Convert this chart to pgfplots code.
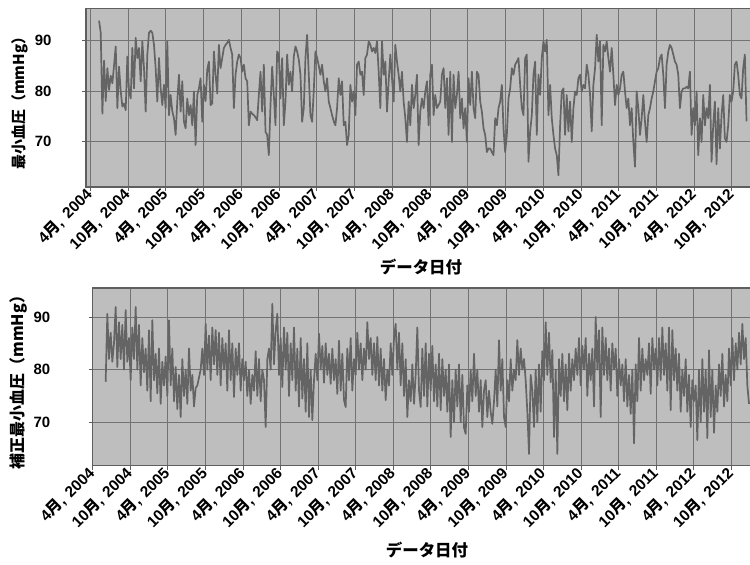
\documentclass[border=0pt]{standalone}
\usepackage{fontspec}
\setmainfont{Liberation Sans}
\newfontfamily\cjk{Noto Sans CJK JP}
\usepackage{pgfplots}
\pgfplotsset{compat=1.18}
\usepackage{pgfplotstable}

\newcommand\M{{\cjk\bfseries 月}}
\newcommand\D[2]{#1\M,\hspace{0.4em}#2}
\definecolor{bg}{RGB}{190,190,190}
\definecolor{gridc}{RGB}{115,115,115}
\definecolor{framec}{RGB}{95,95,95}
\definecolor{linec}{RGB}{100,100,100}

% Top series: 最小血圧, roughly weekly from May 2004 (x = months since Apr 2004)
\pgfplotstableread[row sep=\\]{
y\\
93.9\\ 91.5\\ 75.5\\ 86\\ 78\\ 84.5\\ 80.2\\ 83\\ 81.5\\ 85\\
88.8\\ 76.6\\ 84.8\\ 80\\ 76.9\\ 77.5\\ 76.2\\ 86.8\\ 79.9\\ 78.5\\
88.5\\ 80.5\\ 90.5\\ 86.5\\ 88.5\\ 81.9\\ 89.8\\ 84.5\\ 75.9\\ 87.2\\
91.5\\ 91.9\\ 91.5\\ 89.1\\ 84.5\\ 77.9\\ 86.5\\ 80.5\\ 77.2\\ 81.2\\
76.6\\ 89.8\\ 75.2\\ 79.2\\ 76\\ 74.6\\ 71.3\\ 78\\ 83.2\\ 75.9\\
81.9\\ 73.9\\ 72.6\\ 78.5\\ 75.2\\ 77.2\\ 73.2\\ 79.9\\ 69.3\\ 79.2\\
80.5\\ 82.5\\ 73.9\\ 81.2\\ 78\\ 84.2\\ 85.8\\ 77.2\\ 77.5\\ 87.8\\
83.2\\ 79.5\\ 89.1\\ 84.5\\ 86.5\\ 88.5\\ 89.1\\ 89.5\\ 90.1\\ 88.5\\
87.2\\ 76.6\\ 83.2\\ 85.8\\ 87.2\\ 86.5\\ 83.8\\ 85.2\\ 82.5\\ 81.9\\
73.2\\ 75.9\\ 75.5\\ 75.2\\ 74.8\\ 74.2\\ 79.2\\ 83.8\\ 75.9\\ 85.2\\
71.9\\ 71.3\\ 67.3\\ 77.2\\ 84.8\\ 79.2\\ 73.2\\ 87.8\\ 87.2\\ 78.5\\
86.5\\ 73.2\\ 77.9\\ 87.2\\ 81.2\\ 83.8\\ 79.9\\ 86.8\\ 88.8\\ 87.8\\
86.2\\ 83.2\\ 73.9\\ 76.6\\ 86.5\\ 91.1\\ 83.2\\ 75.2\\
73.9\\ 80\\ 87.8\\ 86.5\\ 85\\ 83.2\\ 85.2\\ 81.9\\ 79.9\\ 82.5\\
77.9\\ 76.6\\ 75.2\\ 74\\ 73.2\\ 76.6\\ 82.5\\ 79.2\\ 81.9\\ 73.2\\
73.9\\ 69.3\\ 71.3\\ 81.2\\ 77.9\\ 79.9\\ 75.2\\ 85.2\\ 85.8\\ 83.2\\
83.8\\ 79.2\\ 86.5\\ 87.2\\ 89.8\\ 89.1\\ 87.8\\ 88.5\\ 87.5\\ 89.8\\
83.8\\ 76.6\\ 89.8\\ 83.2\\ 85.8\\ 75.9\\ 81.9\\ 87.2\\ 82.5\\ 77.9\\
89.1\\ 85.8\\ 83.2\\ 79.9\\ 83.8\\ 77.9\\ 74.6\\ 69.9\\ 77.9\\ 73.2\\
81.2\\ 76.6\\ 79.2\\ 83.2\\ 69.3\\ 75.9\\ 78.5\\ 76.6\\ 79.9\\ 81.9\\
73.2\\ 83.2\\ 85.2\\ 75.2\\ 79.2\\ 76.6\\ 77.2\\ 77.9\\ 83.2\\ 84.5\\
76.6\\ 82.5\\ 71.3\\ 83.8\\ 69.9\\ 83.2\\ 76.6\\ 79.2\\ 83.8\\ 74.6\\
78.5\\ 72.6\\ 76.6\\ 69.9\\ 82.5\\ 77.2\\ 83.8\\ 76.6\\ 74.6\\ 83.8\\
83.2\\ 77.9\\ 75.9\\ 72.6\\ 71.3\\ 67.9\\ 68.6\\ 68.6\\ 67.9\\ 67.3\\
74.6\\ 73.2\\ 76.6\\ 77.9\\ 81.2\\ 72.6\\ 67.9\\ 71.3\\ 78.5\\ 80.5\\
84.5\\ 83.2\\ 85.2\\ 85.8\\ 86.5\\ 81.2\\ 76.6\\ 75.2\\ 86.5\\ 87.2\\
66\\
72\\ 75.2\\ 83.2\\ 85.8\\ 71.3\\ 83.2\\ 79.2\\ 86.5\\ 89.8\\ 87.8\\
90.1\\ 75.2\\ 81.2\\ 74.6\\ 71.3\\ 68.6\\ 67.3\\ 63.3\\ 73.2\\ 79.9\\
80.5\\ 71.3\\ 79.2\\ 72\\ 77.9\\ 69.9\\ 76.6\\ 79.9\\ 79.2\\ 82.5\\
83.2\\ 79.9\\ 81.2\\ 80.5\\ 85.2\\ 83.2\\ 79.2\\ 72\\ 81.2\\ 84.5\\
91.1\\ 85.8\\ 89.8\\ 73.2\\ 89.1\\ 87.8\\ 89.8\\ 86.5\\ 83.8\\ 88.5\\
83.2\\ 77.2\\ 81.2\\ 79.2\\ 80.5\\ 83.2\\ 83.8\\ 79.9\\ 76.6\\ 78.5\\
73.2\\ 76.6\\ 69.9\\ 65\\ 79.9\\ 76.6\\ 71.3\\ 74.6\\ 79.2\\ 73.9\\
69.9\\ 75.2\\ 76.6\\ 78.5\\ 79.9\\ 81.9\\ 83.8\\ 84.5\\ 86.5\\ 87.2\\
83.2\\ 76.6\\ 85.2\\ 87.8\\ 89.1\\ 88.5\\ 87.2\\ 85.8\\ 85.2\\ 83.2\\
76.6\\ 79.9\\ 80.5\\ 80.5\\ 80.8\\ 80.5\\ 83.8\\ 71.3\\ 76.6\\ 73.2\\
79.9\\ 67.3\\ 74.6\\ 69.9\\ 79.2\\ 73.2\\ 76.6\\ 74.6\\ 81.2\\ 66\\
73.2\\ 77.9\\ 65.5\\ 76.6\\ 68.6\\ 75.2\\ 79.2\\ 70.6\\ 69.9\\ 73.2\\
79.2\\ 77.9\\ 79.9\\ 85.2\\ 85.8\\ 83.2\\ 79.2\\ 78.5\\ 84.5\\ 87.2\\
74\\
}\topdata

% Bottom series: 補正最小血圧, denser, from Jun 2004
\pgfplotstableread[row sep=\\]{
y\\
77.7\\ 90.6\\ 82\\ 87\\ 81.5\\ 85\\
91.9\\ 80.5\\ 89\\ 82\\ 88.5\\ 80\\
91.3\\ 81.5\\ 86\\ 78\\ 88\\ 82\\
91.9\\ 80\\ 88.5\\ 77\\ 86\\ 79.5\\
84\\ 76\\ 87.5\\ 74\\ 89.4\\ 78\\
83\\ 75.5\\ 84\\ 73.5\\ 81.5\\ 77\\
82.5\\ 75\\ 89.4\\ 77\\ 84\\ 74\\
80.5\\ 72.5\\ 79\\ 71\\ 82\\ 75\\
80\\ 73.5\\ 84\\ 76\\ 79\\ 73\\
76.5\\ 77\\ 78.5\\ 80\\ 84\\ 79\\
88.7\\ 80\\ 86.5\\ 78\\ 88\\ 81\\
87.5\\ 79\\ 87\\ 77\\ 86\\ 80\\
85\\ 76\\ 87.5\\ 78\\ 85\\ 74.8\\
84\\ 79\\ 85\\ 76\\ 82\\ 78\\
81.5\\ 75\\ 80\\ 73.5\\ 79\\ 76\\
83.5\\ 75\\ 82\\ 74\\ 80\\ 78\\
69.1\\ 82\\ 84\\ 80\\ 92.5\\ 81\\
87.5\\ 90.6\\ 79\\ 86\\ 76.7\\ 88\\
80\\ 87\\ 75\\ 85\\ 78\\ 88\\
76\\ 84\\ 73\\ 86\\ 74.5\\ 82\\
72\\ 85\\ 71\\ 80\\ 70.4\\ 78\\
83\\ 78\\ 86.8\\ 80\\ 84.5\\ 77.5\\
85\\ 79\\ 83\\ 77.3\\ 84\\ 78\\
82\\ 75.4\\ 85.5\\ 76\\ 83\\ 74.2\\
72.9\\ 84\\ 78\\ 86\\ 76\\ 82\\
79\\ 87\\ 80\\ 85\\ 78\\ 84\\
80\\ 89\\ 82\\ 86\\ 79\\ 85\\
78\\ 86.2\\ 77\\ 84\\ 76\\ 82\\
74.2\\ 80\\ 77\\ 85\\ 79\\ 86\\
88.7\\ 80\\ 87\\ 77\\ 85\\ 75\\
82\\ 71\\ 78\\ 74\\ 81\\ 73.5\\
79\\ 88\\ 76\\ 72.9\\ 84\\ 75\\
85\\ 73\\ 83\\ 76\\ 84.5\\ 74\\
81\\ 73\\ 83\\ 72.3\\ 82\\ 75\\
80\\ 72\\ 81\\ 67.2\\ 78\\ 70\\
80\\ 73\\ 81\\ 70\\ 79\\ 69\\
67.8\\ 77\\ 72\\ 80\\ 74\\ 83\\
75\\ 80\\ 72\\ 78\\ 69.1\\ 76\\
78\\ 71\\ 76\\ 72\\ 69.7\\ 74\\
80\\ 73\\ 85.6\\ 76\\ 82\\ 71\\
69.1\\ 78\\ 74\\ 82\\ 76\\ 80\\
78\\ 85.6\\ 79\\ 84\\ 80\\ 82\\
78\\ 72\\ 64\\ 79\\ 76\\ 69.1\\
80\\ 70\\ 81\\ 72\\ 83.5\\ 78\\
89\\ 79\\ 87\\ 77.6\\ 83.7\\ 67.2\\
80\\ 64\\ 82\\ 75\\ 83\\ 74\\
81\\ 72.3\\ 83\\ 76\\ 82\\ 78\\
84\\ 79\\ 86\\ 77\\ 84.5\\ 80\\
86\\ 75\\ 83\\ 78\\ 84\\ 73\\
90\\ 80\\ 87.5\\ 71\\ 88\\ 79\\
86\\ 78\\ 84\\ 76\\ 85\\ 80\\
84\\ 75\\ 82\\ 77\\ 81\\ 74\\
82\\ 73\\ 79\\ 71.6\\ 80\\ 66\\
81\\ 74\\ 86\\ 76\\ 84\\ 78\\
82\\ 79\\ 85\\ 75.4\\ 86\\ 80\\
84\\ 77\\ 86\\ 78\\ 88\\ 79\\
85\\ 76\\ 88\\ 72.3\\ 87.5\\ 78\\
84\\ 76\\ 83\\ 72\\ 80\\ 75\\
82\\ 72\\ 79\\ 69.1\\ 78\\ 74\\
77\\ 66.6\\ 80\\ 70\\ 82\\ 72\\
80\\ 67\\ 83.7\\ 71\\ 80\\ 68\\
77\\ 72\\ 81\\ 75\\ 83\\ 73\\
79\\ 74\\ 84\\ 77\\ 86\\ 78\\
85\\ 80\\ 87\\ 81\\ 88.7\\ 82\\
86\\ 77\\ 73.5\\
}\botdata

\pgfplotsset{
  panel/.style={
    scale only axis,
    axis background/.style={fill=bg},
    axis line style={framec, line width=1.3bp},
    grid=major,
    major grid style={gridc, line width=0.8bp},
    xtick={0,6,...,102},
    xticklabels={{\D{4}{2004}},{\D{10}{2004}},{\D{4}{2005}},{\D{10}{2005}},{\D{4}{2006}},{\D{10}{2006}},{\D{4}{2007}},{\D{10}{2007}},{\D{4}{2008}},{\D{10}{2008}},{\D{4}{2009}},{\D{10}{2009}},{\D{4}{2010}},{\D{10}{2010}},{\D{4}{2011}},{\D{10}{2011}},{\D{4}{2012}},{\D{10}{2012}}},
    ytick={70,80,90},
    xtick pos=bottom, ytick pos=left,
    tick align=outside,
    major tick length=4bp,
    tick style={framec, line width=0.8bp},
    /pgf/number format/assume math mode=true,
    yticklabel style={font=\bfseries\fontsize{15}{18}\selectfont},
    xticklabel style={font=\bfseries\fontsize{15.5}{18}\selectfont, rotate=45, anchor=east, inner sep=1bp},
    xlabel={\cjk\bfseries データ日付},
  },
  series/.style={linec, line width=1.7bp, line join=round, mark=none},
}

\begin{document}
\begin{tikzpicture}
\path[use as bounding box] (0,0) rectangle (750bp,565bp);
% top panel
\begin{axis}[panel,
  at={(86bp,378bp)}, anchor=south west,
  width=666bp, height=178.5bp,
  xmin=-0.68, xmax=105.2, ymin=61, ymax=96.3,
  yticklabel style={xshift=-27bp},
  ylabel={\cjk\bfseries 最小血圧（mmHg）},
  ylabel style={at={(axis description cs:-0.099,0.49)}, rotate=0, anchor=center, font=\fontsize{15}{18}\selectfont},
  xlabel style={at={(axis description cs:0.503,-0.448)}, anchor=center, font=\fontsize{16.5}{19}\selectfont},
]
\addplot[series] table[x expr=\coordindex*0.2646+1.397, y=y] {\topdata};
\end{axis}
% bottom panel
\begin{axis}[panel,
  at={(92.7bp,99.5bp)}, anchor=south west,
  width=659.3bp, height=177.5bp,
  xmin=0, xmax=105.3, ymin=61.8, ymax=95.5,
  yticklabel style={xshift=-35bp},
  ylabel={\cjk\bfseries 補正最小血圧（mmHg）},
  ylabel style={at={(axis description cs:-0.113,0.49)}, rotate=0, anchor=center, font=\fontsize{16}{19}\selectfont},
  xlabel style={at={(axis description cs:0.507,-0.476)}, anchor=center, font=\fontsize{16.5}{19}\selectfont},
]
\addplot[series] table[x expr=\coordindex*0.2662+2.07, y=y] {\botdata};
\end{axis}
\end{tikzpicture}
\end{document}
